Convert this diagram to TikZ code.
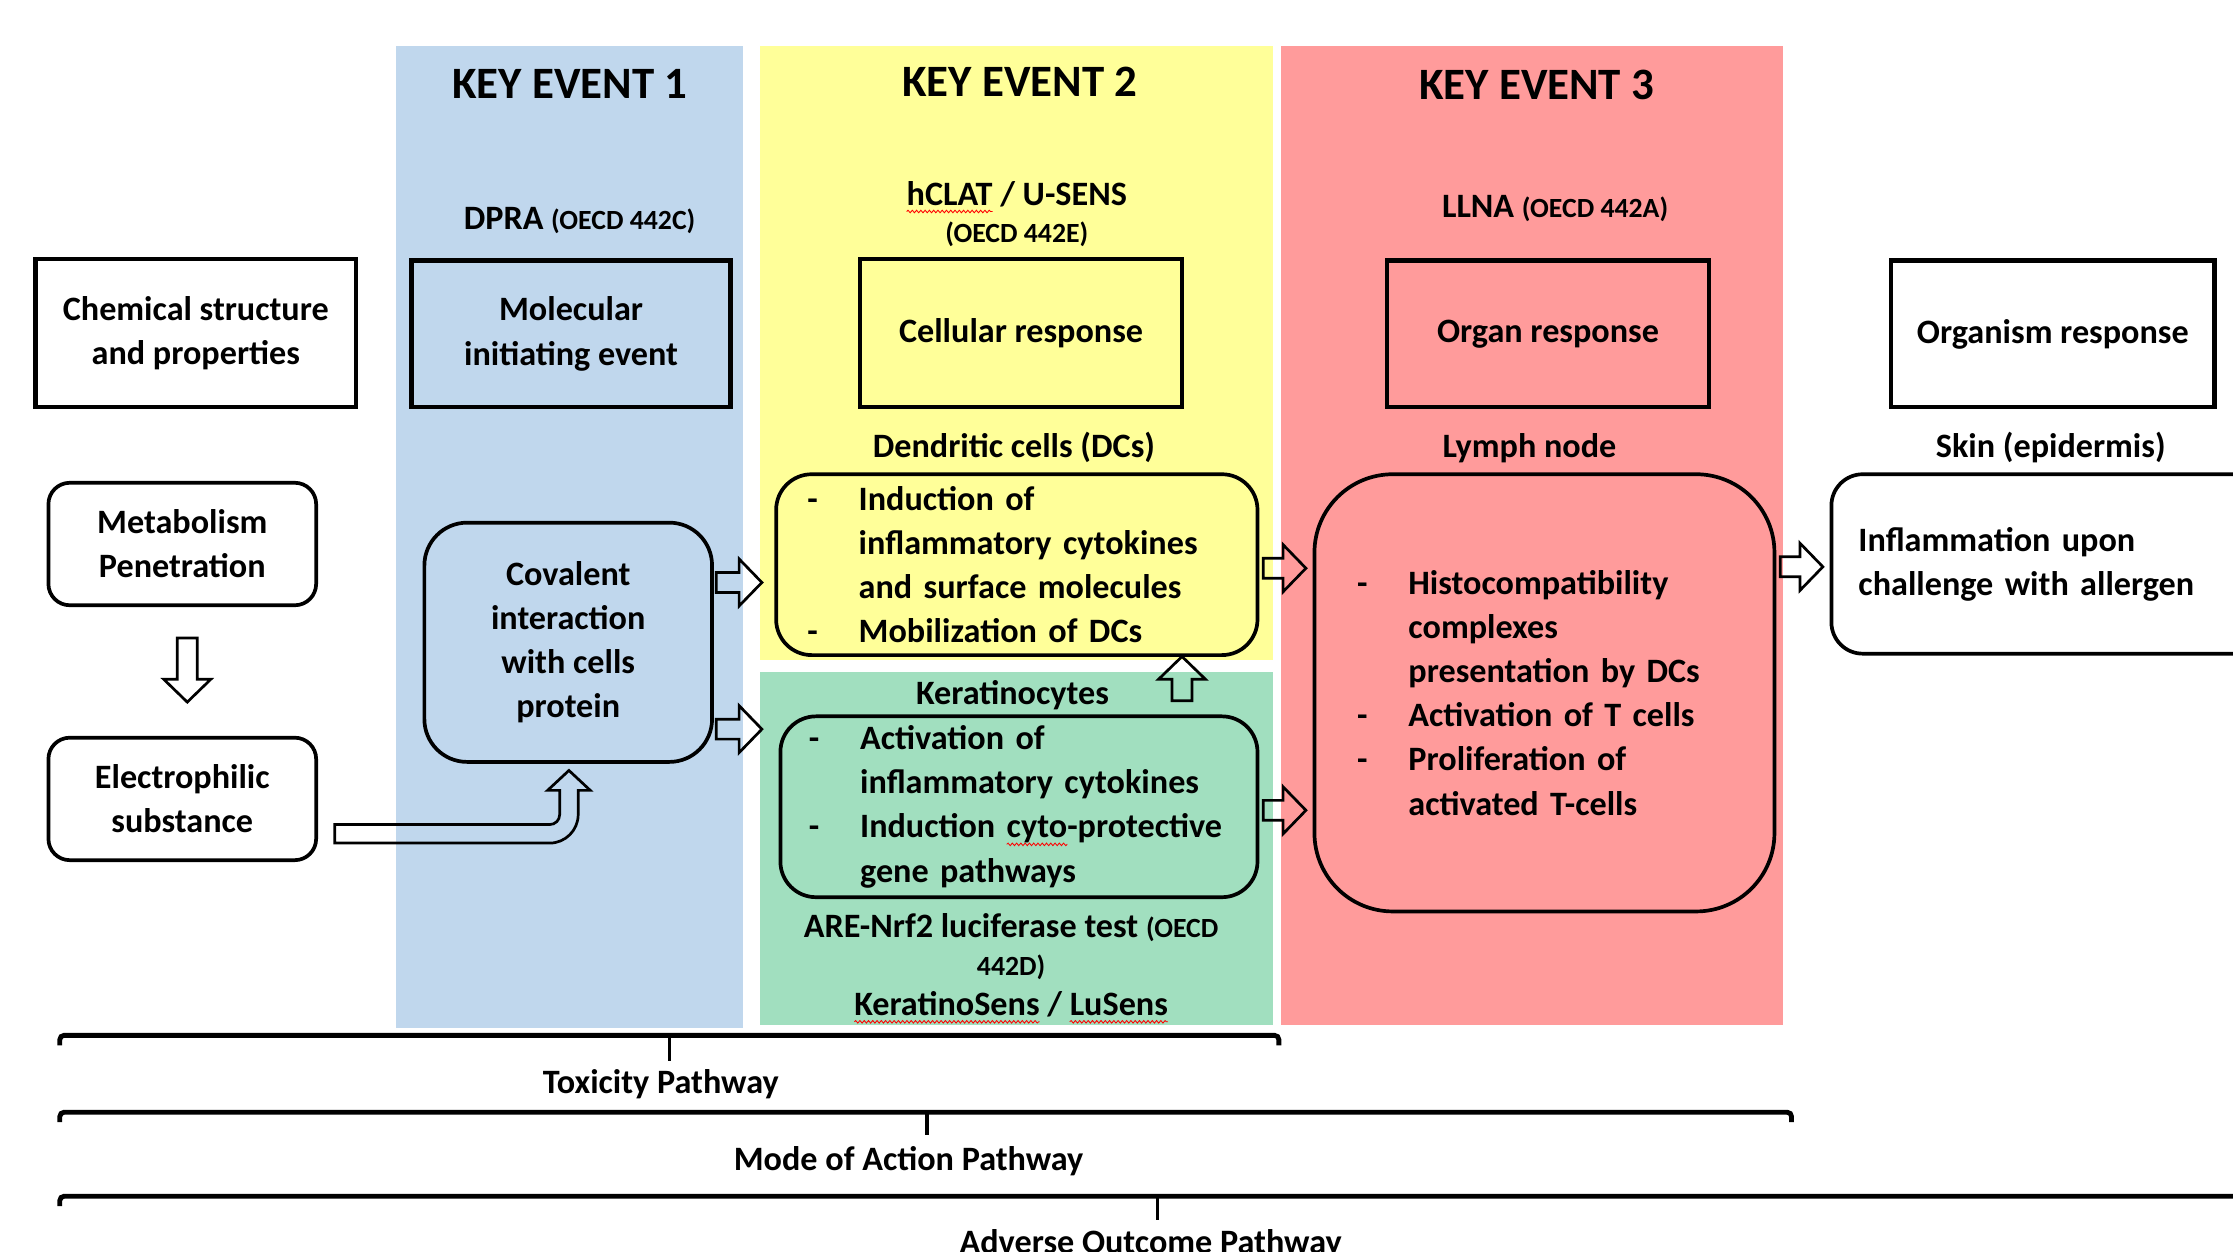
\documentclass[tikz,border=0pt]{standalone}
\usepackage{fontspec}
\setmainfont{Carlito}
\usetikzlibrary{calc,decorations.pathmorphing}
\definecolor{bandblue}{HTML}{C0D7ED}
\definecolor{bandyellow}{HTML}{FFFF99}
\definecolor{bandgreen}{HTML}{A1DFBF}
\definecolor{bandred}{HTML}{FF9B9B}
\newcommand\mainf{\bfseries\fontsize{24}{31}\selectfont}
\newcommand\titlef{\bfseries\fontsize{31.5}{36}\selectfont}
\newcommand\smallf{\bfseries\fontsize{19.5}{22}\selectfont}
\newsavebox\splbox
\newcommand\spl[1]{\sbox\splbox{#1}\tikz[overlay,baseline=0pt,x=1pt,y=1pt,sharp corners]\draw[red,line width=0.6pt,sharp corners,decorate,decoration={snake,amplitude=0.9pt,segment length=3pt}] (0pt,-4.5pt) -- (\the\wd\splbox,-4.5pt);\usebox\splbox}
\newcommand\bitem[1]{\makebox[36pt][l]{-}\mbox{#1}}
\newcommand\bcont[1]{\hspace*{36pt}\mbox{#1}}
\newcommand\barrow[2]{%
  \coordinate (baS) at (#1);
  \coordinate (baT) at (#2);
  \coordinate (baQ) at ($(baT)!16pt!(baS)$);
  \draw[arrowline] ($(baS)!7pt!90:(baT)$) -- ($(baQ)!7pt!90:(baT)$) -- ($(baQ)!16.5pt!90:(baT)$) -- (baT)
     -- ($(baQ)!16.5pt!-90:(baT)$) -- ($(baQ)!7pt!-90:(baT)$) -- ($(baS)!7pt!-90:(baT)$) -- cycle;}
\begin{document}
\begin{tikzpicture}[x=1pt,y=-1pt,font=\mainf,
  sq/.style={draw,line width=3pt,align=center,inner sep=0pt,outer sep=0pt},
  rb/.style={draw,line width=2.6pt,align=center,inner sep=0pt,outer sep=0pt},
  lst/.style={draw,line width=2.6pt,align=left,outer sep=0pt,inner ysep=0pt},
  lbl/.style={anchor=base,inner sep=0pt},
  title/.style={anchor=base,inner sep=0pt,font=\titlef},
  arrowline/.style={draw,line width=1.9pt,line join=miter},
  brk/.style={line width=3.4pt,rounded corners=3pt},
  tick/.style={line width=2.3pt}]
\useasboundingbox (0,0) rectangle (1568,879);
\clip (0,0) rectangle (1568,879);
\fill[white] (0,0) rectangle (1568,879);
% bands
\fill[bandblue] (278,32) rectangle (521.5,722);
\fill[bandyellow] (534,32) rectangle (894,463.5);
\fill[bandgreen] (534,472) rectangle (894,720);
\fill[bandred] (899.5,32) rectangle (1252,720);
% titles
\node[title] (ke1) at (400,69) {KEY EVENT 1};
\node[title] (ke2) at (716,68) {KEY EVENT 2};
\node[title] (ke3) at (1079,70) {KEY EVENT 3};
\node[lbl] (dpra) at (407,161) {DPRA {\smallf (OECD 442C)}};
\node[lbl] (hclat) at (714,144) {\spl{hCLAT} / U-SENS};
\node[lbl] (oecde) at (714,170) {\smallf (OECD 442E)};
\node[lbl] (llna) at (1092,153) {LLNA {\smallf (OECD 442A)}};
% level boxes
\node[sq,fill=white,minimum width=225pt,minimum height=104pt] (chem) at (137.5,234) {Chemical structure\\and properties};
\node[sq,minimum width=224pt,minimum height=103pt] (mie) at (401,234.5) {Molecular\\initiating event};
\node[sq,minimum width=226pt,minimum height=104pt] (cell) at (717,234) {Cellular response};
\node[sq,minimum width=226pt,minimum height=103pt] (organ) at (1087,234.5) {Organ response};
\node[sq,fill=white,minimum width=227pt,minimum height=103pt] (orgm) at (1441.5,234.5) {Organism response};
% labels
\node[lbl] (dcl) at (712,321) {Dendritic cells (DCs)};
\node[lbl] (lnl) at (1074,321) {Lymph node};
\node[lbl] (skl) at (1440,321) {Skin (epidermis)};
% rounded boxes
\node[rb,fill=white,rounded corners=15pt,minimum width=188pt,minimum height=86pt] (met) at (128,382) {Metabolism\\Penetration};
\node[rb,fill=white,rounded corners=15pt,minimum width=188pt,minimum height=86pt] (elec) at (128,561) {Electrophilic\\substance};
\node[rb,rounded corners=30pt,minimum width=202pt,minimum height=168pt] (cov) at (399,451) {Covalent\\interaction\\with cells\\protein};
\node[lst,rounded corners=25pt,minimum height=127pt,inner xsep=22pt,text width=294pt] (dc) at (714,396.5)
  {\bitem{Induction of}\\\bcont{inflammatory cytokines}\\\bcont{and surface molecules}\\\bitem{Mobilization of DCs}};
\node[lbl] (kcl) at (711,495) {Keratinocytes};
\node[lst,rounded corners=25pt,minimum height=127pt,inner xsep=20pt,text width=295pt] (kc) at (715.5,566.5)
  {\bitem{Activation of}\\\bcont{inflammatory cytokines}\\\bitem{Induction \spl{cyto}-protective}\\\bcont{gene pathways}};
\node[lbl] (are1) at (710,658) {ARE-Nrf2 luciferase test {\smallf (OECD}};
\node[lbl] (are2) at (710,685) {\smallf 442D)};
\node[lbl] (kts) at (710,713) {\spl{KeratinoSens} / \spl{LuSens}};
\node[lst,rounded corners=55pt,minimum height=307pt,inner xsep=30pt,text width=263pt] (lymph) at (1084.5,486.5)
  {\bitem{Histocompatibility}\\\bcont{complexes}\\\bcont{presentation by DCs}\\\bitem{Activation of T cells}\\\bitem{Proliferation of}\\\bcont{activated T-cells}};
\node[lst,fill=white,rounded corners=22pt,minimum height=126pt,inner xsep=19pt,text width=296pt] (infl) at (1453,396)
  {Inflammation upon\\challenge with allergen};
% block arrows
\coordinate (m1) at ($(met.south)+(3.5,23)$);
\coordinate (m2) at ($(elec.north)+(3.5,-25)$);
\barrow{m1}{m2}
\coordinate (c1) at ($(cov.east)+(3,-42)$);
\coordinate (c1t) at ($(c1 -| dc.west)+(-10,0)$);
\barrow{c1}{c1t}
\coordinate (c2) at ($(cov.east)+(3,61)$);
\coordinate (c2t) at ($(c2 -| kc.west)+(-13,0)$);
\barrow{c2}{c2t}
\coordinate (k1) at ($(kc.north)+(114.5,-11)$);
\coordinate (k1t) at ($(k1 |- dc.south)+(0,1)$);
\barrow{k1}{k1t}
\coordinate (d1) at ($(dc.east)+(4,2.5)$);
\coordinate (d1t) at ($(d1 -| lymph.west)+(-6,0)$);
\barrow{d1}{d1t}
\coordinate (k2) at ($(kc.east)+(4,2.5)$);
\coordinate (k2t) at ($(k2 -| lymph.west)+(-6,0)$);
\barrow{k2}{k2t}
\coordinate (l1) at ($(lymph.east)+(4,-88.5)$);
\coordinate (l1t) at ($(l1 -| infl.west)+(-6,0)$);
\barrow{l1}{l1t}
% bent arrow electrophilic -> covalent
\begin{scope}[shift={(cov.south)}]
\draw[arrowline] (-164,44) -- (-13,44) .. controls (-9.1,44) and (-6,40.9) .. (-6,37) -- (-6,20) -- (-14.5,20)
  -- (0.5,6) -- (15.5,20) -- (7,20) -- (7,37) .. controls (7,48) and (-2,57) .. (-13,57) -- (-164,57) -- cycle;
\end{scope}
% pathway brackets
\draw[brk] (42,734) -- (42,727) -- (898,727) -- (898,734);
\draw[tick] (470,727) -- (470,745);
\node[lbl] (tox) at (464,768) {Toxicity Pathway};
\draw[brk] (42,788) -- (42,781) -- (1258,781) -- (1258,788);
\draw[tick] (651,781) -- (651,797);
\node[lbl] (moa) at (638,822) {Mode of Action Pathway};
\draw[brk] (42,847) -- (42,840) -- (1600,840);
\draw[tick] (813,840) -- (813,857);
\node[lbl] (aop) at (808,880) {Adverse Outcome Pathway};
\end{tikzpicture}
\end{document}
